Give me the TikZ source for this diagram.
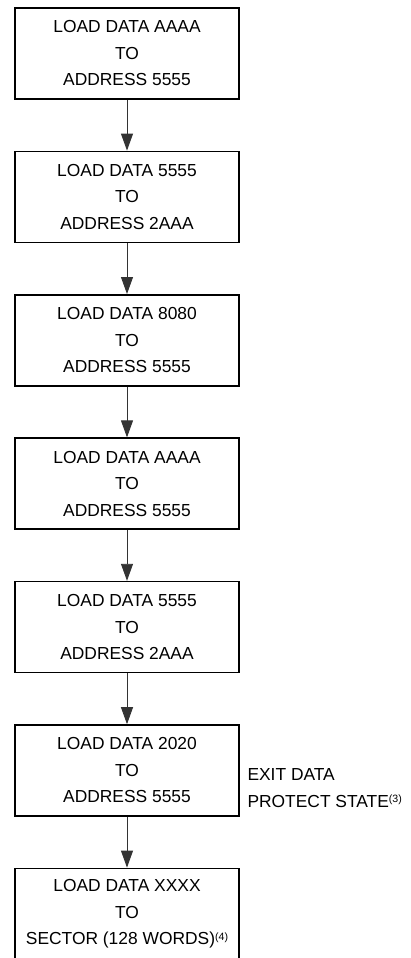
\documentclass[tikz,border=0pt]{standalone}
\usepackage{fontspec}
\setmainfont{Liberation Sans}
\usepackage{tikz}
\usetikzlibrary{arrows.meta,calc,positioning}

\newcommand{\notemark}[1]{\raisebox{4.5pt}{\fontsize{10.6}{10.6}\selectfont(#1)}}

\begin{document}
\begin{tikzpicture}[node distance=50.8pt, font=\fontsize{17.4}{26.5}\selectfont,
    box/.style={rectangle, draw, line width=1.6pt, minimum width=224pt, minimum height=91pt, align=center, inner sep=0pt},
    flow/.style={-{Triangle[width=12pt,length=17pt]}, line width=0.9pt, draw=black!80},
    note/.style={align=left, inner sep=0pt}]
    \useasboundingbox (0,0) rectangle (411pt,-958pt);
    \node[box] (loadA) at (127pt,-53.5pt) {LOAD DATA AAAA\\TO\\ADDRESS 5555};
    \node[box, below=of loadA] (load5) {LOAD DATA 5555\\TO\\ADDRESS 2AAA};
    \node[box, below=of load5] (load80) {LOAD DATA 8080\\TO\\ADDRESS 5555};
    \node[box, below=of load80] (loadA2) {LOAD DATA AAAA\\TO\\ADDRESS 5555};
    \node[box, below=of loadA2] (load52) {LOAD DATA 5555\\TO\\ADDRESS 2AAA};
    \node[box, below=of load52] (load20) {LOAD DATA 2020\\TO\\ADDRESS 5555};
    \node[box, below=of load20] (loadX) {LOAD DATA XXXX\\TO\\SECTOR (128 WORDS)\notemark{4}};
    \node[note, anchor=base west] (exit) at ([xshift=7.5pt,yshift=9.5pt]load20.south east) {EXIT DATA\\PROTECT STATE\notemark{3}};
    
    \draw[flow] (loadA) -- (load5);
    \draw[flow] (load5) -- (load80);
    \draw[flow] (load80) -- (loadA2);
    \draw[flow] (loadA2) -- (load52);
    \draw[flow] (load52) -- (load20);
    \draw[flow] (load20) -- (loadX);
\end{tikzpicture}
\end{document}
